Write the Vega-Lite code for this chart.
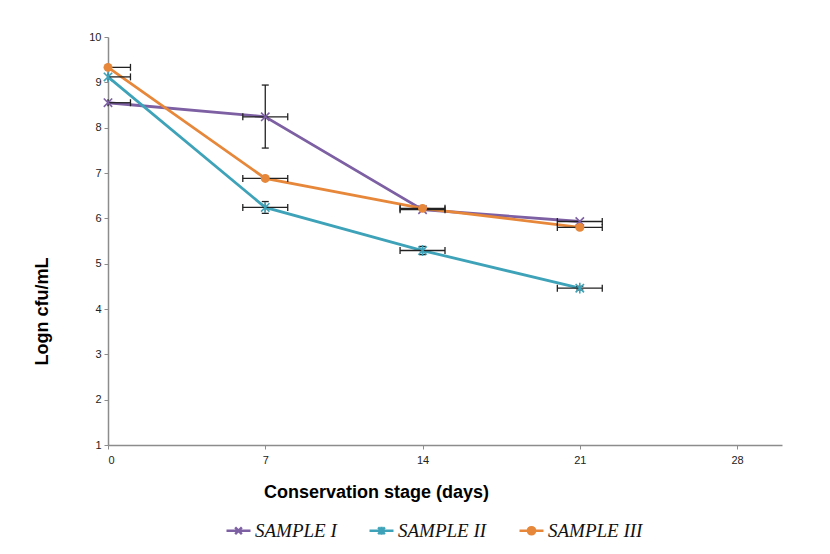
{
  "$schema": "https://vega.github.io/schema/vega-lite/v6.json",
  "width": 674,
  "height": 408,
  "autosize": {"type": "none"},
  "padding": {"left": 108, "top": 37, "right": 48, "bottom": 109},
  "background": "white",
  "config": {"view": {"stroke": null}, "font": "Liberation Sans"},
  "data": {"values": [
    {"series": "SAMPLE I", "day": 0, "value": 8.55, "yLow": 8.55, "yHigh": 8.55, "xLow": 0, "xHigh": 1},
    {"series": "SAMPLE I", "day": 7, "value": 8.24, "yLow": 7.55, "yHigh": 8.94, "xLow": 6, "xHigh": 8},
    {"series": "SAMPLE I", "day": 14, "value": 6.19, "yLow": 6.19, "yHigh": 6.19, "xLow": 13, "xHigh": 15},
    {"series": "SAMPLE I", "day": 21, "value": 5.93, "yLow": 5.93, "yHigh": 5.93, "xLow": 20, "xHigh": 22},
    {"series": "SAMPLE II", "day": 0, "value": 9.12, "yLow": 9.12, "yHigh": 9.12, "xLow": 0, "xHigh": 1},
    {"series": "SAMPLE II", "day": 7, "value": 6.24, "yLow": 6.11, "yHigh": 6.37, "xLow": 6, "xHigh": 8},
    {"series": "SAMPLE II", "day": 14, "value": 5.29, "yLow": 5.2, "yHigh": 5.38, "xLow": 13, "xHigh": 15},
    {"series": "SAMPLE II", "day": 21, "value": 4.46, "yLow": 4.42, "yHigh": 4.5, "xLow": 20, "xHigh": 22},
    {"series": "SAMPLE III", "day": 0, "value": 9.33, "yLow": 9.33, "yHigh": 9.33, "xLow": 0, "xHigh": 1},
    {"series": "SAMPLE III", "day": 7, "value": 6.88, "yLow": 6.88, "yHigh": 6.88, "xLow": 6, "xHigh": 8},
    {"series": "SAMPLE III", "day": 14, "value": 6.22, "yLow": 6.22, "yHigh": 6.22, "xLow": 13, "xHigh": 15},
    {"series": "SAMPLE III", "day": 21, "value": 5.8, "yLow": 5.8, "yHigh": 5.8, "xLow": 20, "xHigh": 22}
  ]},
  "layer": [
    {
      "mark": {"type": "line", "strokeWidth": 2.8},
      "encoding": {
        "x": {"field": "day", "type": "quantitative", "scale": {"domain": [0, 30], "nice": false, "zero": false},
          "axis": {"values": [0, 7, 14, 21, 28], "title": "Conservation stage (days)", "grid": false,
            "domainColor": "#8c8c8c", "domainWidth": 1.5, "tickColor": "#8c8c8c", "tickSize": 4,
            "labelFont": "Liberation Sans", "labelFontSize": 11, "labelColor": "#222", "labelPadding": 5,
            "titleFont": "Liberation Sans", "titleFontSize": 18, "titleFontWeight": "bold", "titleColor": "#000",
            "titleX": 268, "titleY": 47, "titleAlign": "center", "titleBaseline": "middle"}},
        "y": {"field": "value", "type": "quantitative", "scale": {"domain": [1, 10], "nice": false, "zero": false},
          "axis": {"values": [1, 2, 3, 4, 5, 6, 7, 8, 9, 10], "title": "Logn cfu/mL", "grid": false,
            "domainColor": "#8c8c8c", "domainWidth": 1.5, "tickColor": "#8c8c8c", "tickSize": 4,
            "labelFont": "Liberation Sans", "labelFontSize": 11, "labelColor": "#222", "labelPadding": 3,
            "titleFont": "Liberation Sans", "titleFontSize": 18, "titleFontWeight": "bold", "titleColor": "#000",
            "titleX": -66, "titleY": 274, "titleAlign": "center", "titleBaseline": "middle", "titleAngle": -90}},
        "stroke": {"field": "series", "type": "nominal",
          "scale": {"domain": ["SAMPLE I", "SAMPLE II", "SAMPLE III"], "range": ["#7d5fa3", "#3ea3b8", "#e6873a"]},
          "legend": {"title": null, "orient": "none", "direction": "horizontal", "legendX": 117, "legendY": 480,
            "labelFont": "Liberation Serif", "labelFontStyle": "italic", "labelFontSize": 19, "labelColor": "#111",
            "labelOffset": 3, "columnPadding": 27, "symbolSize": 576, "symbolStrokeWidth": 2.5, "symbolOpacity": 1}}
      }
    },
    {
      "mark": {"type": "point", "filled": false, "size": 576, "strokeWidth": 2.5, "opacity": 0},
      "encoding": {
        "x": {"field": "day", "type": "quantitative"},
        "y": {"field": "value", "type": "quantitative"},
        "fill": {"field": "series", "type": "nominal", "legend": null,
          "scale": {"domain": ["SAMPLE I", "SAMPLE II", "SAMPLE III"], "range": ["#7d5fa3", "#3ea3b8", "#e6873a"]}},
        "shape": {"field": "series", "type": "nominal", "legend": null,
          "scale": {"domain": ["SAMPLE I", "SAMPLE II", "SAMPLE III"], "range": [
            "M-1,0L1,0M-0.28,-0.28L0.28,0.28M-0.28,0.28L0.28,-0.28",
            "M-1,0L1,0M-0.28,-0.28L0.28,0.28M-0.28,0.28L0.28,-0.28M0,-0.34L0,0.34",
            "M-1,0L1,0M-0.3,0A0.3,0.3,0,1,1,0.3,0A0.3,0.3,0,1,1,-0.3,0Z"]}}
      }
    },
    {
      "mark": {"type": "rule", "color": "#222", "strokeWidth": 1.3},
      "encoding": {
        "x": {"field": "xLow", "type": "quantitative"},
        "x2": {"field": "xHigh"},
        "y": {"field": "value", "type": "quantitative"}
      }
    },
    {
      "transform": [{"filter": "datum.yHigh > datum.yLow"}],
      "mark": {"type": "rule", "color": "#222", "strokeWidth": 1.3},
      "encoding": {
        "x": {"field": "day", "type": "quantitative"},
        "y": {"field": "yLow", "type": "quantitative"},
        "y2": {"field": "yHigh"}
      }
    },
    {
      "transform": [{"fold": ["xLow", "xHigh"], "as": ["side", "capX"]}],
      "mark": {"type": "point", "shape": "M0,-1L0,1", "size": 49, "filled": false, "color": "#222", "strokeWidth": 1.3, "opacity": 1},
      "encoding": {
        "x": {"field": "capX", "type": "quantitative"},
        "y": {"field": "value", "type": "quantitative"}
      }
    },
    {
      "transform": [{"filter": "datum.yHigh > datum.yLow"}, {"fold": ["yLow", "yHigh"], "as": ["side", "capY"]}],
      "mark": {"type": "point", "shape": "M-1,0L1,0", "size": 49, "filled": false, "color": "#222", "strokeWidth": 1.3, "opacity": 1},
      "encoding": {
        "x": {"field": "day", "type": "quantitative"},
        "y": {"field": "capY", "type": "quantitative"}
      }
    },
    {
      "transform": [{"filter": "datum.series === 'SAMPLE I'"}],
      "mark": {"type": "point", "shape": "M-1,-1L1,1M-1,1L1,-1", "filled": false, "size": 70, "strokeWidth": 1.6, "opacity": 1},
      "encoding": {
        "x": {"field": "day", "type": "quantitative"},
        "y": {"field": "value", "type": "quantitative"},
        "color": {"field": "series", "type": "nominal", "legend": null,
          "scale": {"domain": ["SAMPLE I", "SAMPLE II", "SAMPLE III"], "range": ["#7d5fa3", "#3ea3b8", "#e6873a"]}}
      }
    },
    {
      "transform": [{"filter": "datum.series === 'SAMPLE II'"}],
      "mark": {"type": "point", "shape": "M-1,-1L1,1M-1,1L1,-1M0,-1.3L0,1.3", "filled": false, "size": 70, "strokeWidth": 1.6, "opacity": 1},
      "encoding": {
        "x": {"field": "day", "type": "quantitative"},
        "y": {"field": "value", "type": "quantitative"},
        "color": {"field": "series", "type": "nominal", "legend": null}
      }
    },
    {
      "transform": [{"filter": "datum.series === 'SAMPLE III'"}],
      "mark": {"type": "point", "shape": "circle", "filled": true, "size": 80, "opacity": 1},
      "encoding": {
        "x": {"field": "day", "type": "quantitative"},
        "y": {"field": "value", "type": "quantitative"},
        "color": {"field": "series", "type": "nominal", "legend": null}
      }
    }
  ]
}
